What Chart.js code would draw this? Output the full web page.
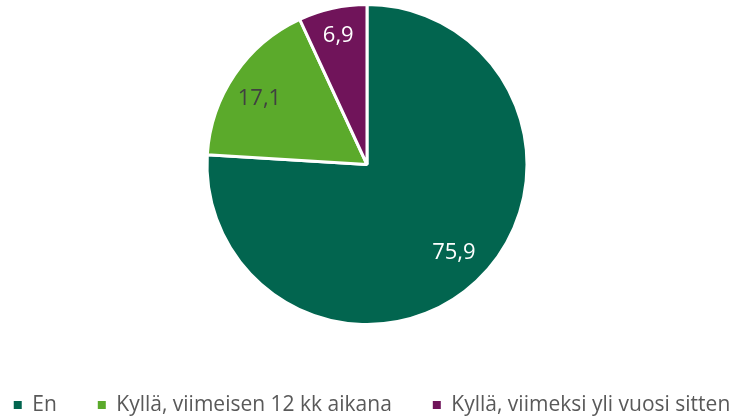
<!DOCTYPE html>
<html><head><meta charset="utf-8">
<script src="https://cdn.jsdelivr.net/npm/chart.js@4/dist/chart.umd.min.js"></script>
<style>html,body{margin:0;padding:0;background:#fff;}#wrap{width:734px;height:419px;}</style>
</head><body><div id="wrap"><canvas id="c"></canvas></div>
<script>
const categories = ['En', 'Kyllä, viimeisen 12 kk aikana', 'Kyllä, viimeksi yli vuosi sitten'];
const values = [75.9, 17.1, 6.9];
const colors = ['#02654F', '#5BAA2B', '#70145A'];
const labelColors = ['#FFFFFF', '#404040', '#FFFFFF'];

const valueLabels = {
  id: 'valueLabels',
  afterLayout(chart, args, opts) {
    if (chart.legend) { chart.legend.left += opts.legendShift || 0; chart.legend.right += opts.legendShift || 0; }
  },
  afterDatasetsDraw(chart, args, opts) {
    const ctx = chart.ctx;
    const meta = chart.getDatasetMeta(0);
    const radial = opts.radial || [];
    const turn = opts.angleShift || [];
    ctx.save();
    ctx.font = '22px "Open Sans", sans-serif';
    ctx.textAlign = 'center';
    ctx.textBaseline = 'middle';
    meta.data.forEach((arc, i) => {
      const mid = (arc.startAngle + arc.endAngle) / 2 + (turn[i] || 0) * Math.PI / 180;
      const d = arc.outerRadius * (radial[i] || 0.78);
      const x = arc.x + Math.cos(mid) * d;
      const y = arc.y + Math.sin(mid) * d + 1.5;
      ctx.fillStyle = labelColors[i];
      ctx.fillText(String(values[i]).replace('.', ','), x, y);
    });
    ctx.restore();
  }
};

new Chart(document.getElementById('c'), {
  type: 'pie',
  data: {
    labels: categories,
    datasets: [{ data: values, backgroundColor: colors, borderColor: '#FFFFFF', borderWidth: 3 }]
  },
  options: {
    responsive: true,
    maintainAspectRatio: false,
    animation: false,
    layout: { padding: { top: 3, bottom: 0, left: -60, right: -60 } },
    plugins: {
      tooltip: { enabled: false },
      valueLabels: { radial: [0.767, 0.792, 0.835], angleShift: [-1.8, -2.4, 0], legendShift: 5 },
      legend: {
        position: 'bottom',
        maxHeight: 93,
        title: { display: true, text: ' ', font: { size: 10 }, padding: { top: 8, bottom: 7.5 } },
        labels: {
          boxWidth: 8, boxHeight: 8, padding: 41,
          color: '#595959',
          font: { size: 21, family: '"Open Sans", sans-serif' },
          generateLabels: (chart) => Chart.overrides.pie.plugins.legend.labels.generateLabels(chart).map(l => Object.assign(l, { lineWidth: 0, fontColor: '#595959' }))
        }
      }
    }
  },
  plugins: [valueLabels]
});
</script></body></html>
